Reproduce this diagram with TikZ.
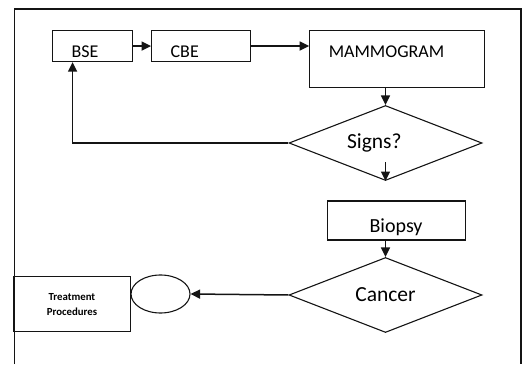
\documentclass[tikz,border=0pt]{standalone}
\usepackage{fontspec}
\setmainfont{Carlito}
\usetikzlibrary{shapes.geometric, arrows.meta, positioning}
\definecolor{inkblack}{RGB}{20, 20, 20}
\tikzset{
  >=Triangle,
  flowarrow/.style={-{Triangle[length=9.5pt, width=9pt]}, line width=1.5pt, inkblack},
  stepbox/.style={draw=inkblack, line width=1.1pt, inner xsep=19pt, inner ysep=0pt, align=left, anchor=north west, font=\fontsize{18}{21}\selectfont},
  checkbox/.style={draw=inkblack, line width=1.1pt, diamond, shape aspect=2.6, inner sep=0pt, minimum width=193pt, minimum height=75pt, font=\fontsize{21.5}{24}\selectfont}
}
\begin{document}
\begin{tikzpicture}[x=1pt, y=1pt]
\useasboundingbox (0,0) rectangle (524,364);
\draw[inkblack, line width=1.1pt] (14.5,0) -- (14.5,355) -- (521,355) -- (521,0);
\node[stepbox, text width=42pt, minimum height=31pt, text height=27pt, text depth=4pt] (bse) at (52,334) {BSE};
\node[stepbox, text width=61pt, minimum height=31pt, text height=27pt, text depth=4pt, right=18pt of bse] (cbe) {CBE};
\node[stepbox, text width=137pt, minimum height=57pt, text height=26.5pt, text depth=30.5pt, right=58pt of cbe.north east, anchor=north west] (mam) {MAMMOGRAM};
\node[checkbox, text width=77pt, align=left] (signs) at (385.5,221) {Signs?};
\node[stepbox, text width=100pt, align=center, minimum height=39pt, text height=31.5pt, text depth=7.5pt, font=\fontsize{20}{23}\selectfont] (biopsy) at (326.5,163.5) {Biopsy};
\node[checkbox, align=center] (cancer) at (385.5,69) {Cancer};
\node[draw=inkblack, line width=1.1pt, ellipse, inner sep=0pt, minimum width=59pt, minimum height=38pt] (ring) at (160.5,70) {};
\node[draw=inkblack, line width=1.1pt, anchor=north east, minimum width=117pt, minimum height=55pt, align=center, font=\bfseries\fontsize{10.8}{15}\selectfont] (treat) at (131,88) {Treatment\\Procedures};
\draw[flowarrow] (bse) -- (cbe);
\draw[flowarrow] (cbe) -- (cbe -| mam.west);
\draw[flowarrow] (mam.south -| signs.north) -- (signs.north);
\draw[flowarrow] (signs.west) -| ([xshift=-20pt]bse.south);
\draw[flowarrow] ([yshift=19pt]signs.south) -- (signs.south);
\draw[flowarrow] (biopsy.south -| cancer.north) -- (cancer.north);
\draw[flowarrow] (cancer.west) -- (ring.east);
\end{tikzpicture}
\end{document}
